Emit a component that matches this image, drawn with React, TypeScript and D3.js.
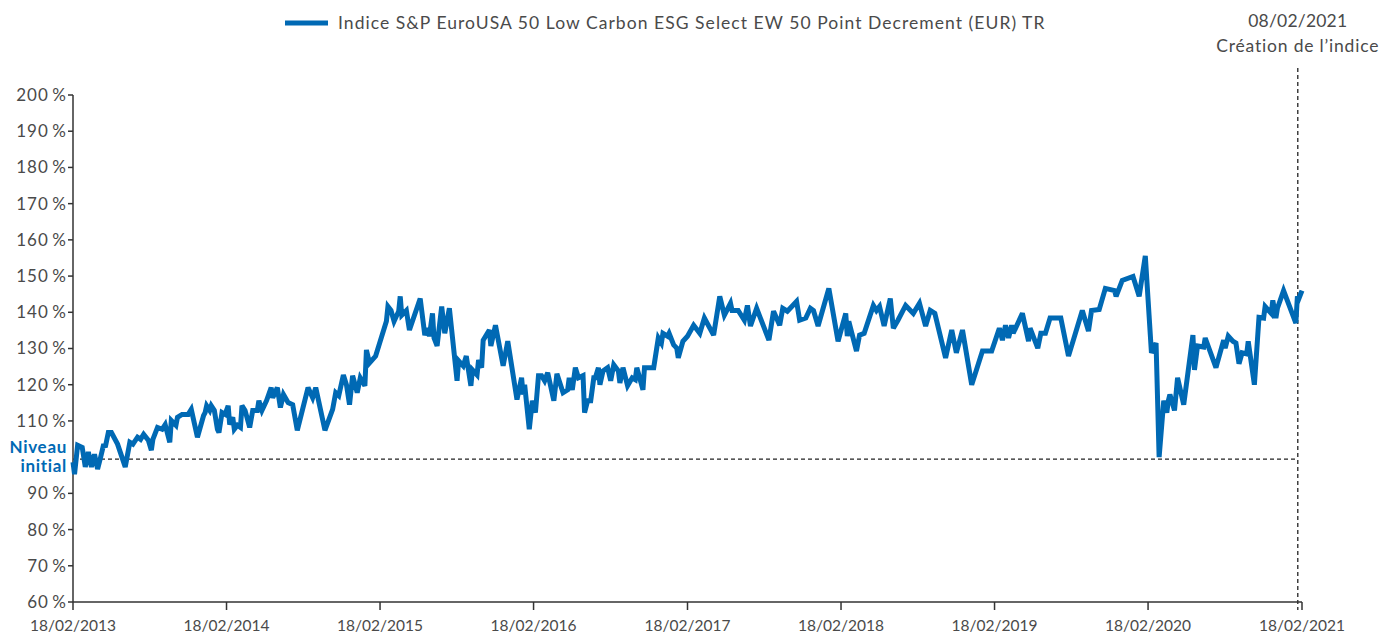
import React from "react";
import * as d3 from "d3";

// years elapsed since 18/02/2013
const yearOffsets = [
  0.0, 0.01, 0.03, 0.06, 0.08, 0.1, 0.12, 0.14, 0.16, 0.18, 0.2, 0.21, 0.23, 0.25, 0.29, 0.34, 0.37, 0.39, 0.42, 0.44,
  0.46, 0.49, 0.51, 0.52, 0.55, 0.58, 0.6, 0.63, 0.64, 0.67, 0.68, 0.71, 0.75, 0.77, 0.81, 0.85, 0.86, 0.87, 0.89, 0.9,
  0.92, 0.94, 0.95, 0.97, 0.99, 1.01, 1.02, 1.04, 1.05, 1.07, 1.09, 1.1, 1.12, 1.15, 1.17, 1.2, 1.21, 1.23, 1.26, 1.29,
  1.3, 1.33, 1.35, 1.37, 1.4, 1.43, 1.46, 1.53, 1.56, 1.58, 1.64, 1.69, 1.71, 1.73, 1.76, 1.78, 1.8, 1.82, 1.85, 1.87,
  1.9, 1.91, 1.93, 1.97, 2.04, 2.05, 2.07, 2.09, 2.12, 2.13, 2.14, 2.17, 2.19, 2.26, 2.29, 2.31, 2.32, 2.34, 2.35, 2.37,
  2.4, 2.42, 2.45, 2.5, 2.51, 2.54, 2.56, 2.59, 2.6, 2.63, 2.64, 2.66, 2.67, 2.71, 2.72, 2.75, 2.8, 2.83, 2.89, 2.92,
  2.93, 2.94, 2.97, 2.99, 3.01, 3.03, 3.05, 3.07, 3.09, 3.13, 3.15, 3.19, 3.22, 3.23, 3.25, 3.27, 3.29, 3.32, 3.33, 3.35,
  3.37, 3.39, 3.4, 3.42, 3.43, 3.45, 3.48, 3.5, 3.52, 3.55, 3.56, 3.58, 3.61, 3.64, 3.66, 3.67, 3.71, 3.72, 3.78, 3.81,
  3.83, 3.84, 3.87, 3.88, 3.91, 3.93, 3.94, 3.97, 4.0, 4.04, 4.08, 4.11, 4.17, 4.21, 4.24, 4.28, 4.29, 4.33, 4.37, 4.39,
  4.41, 4.45, 4.53, 4.56, 4.6, 4.62, 4.65, 4.71, 4.73, 4.77, 4.8, 4.82, 4.85, 4.92, 4.98, 5.03, 5.04, 5.05, 5.1, 5.12,
  5.15, 5.21, 5.23, 5.25, 5.28, 5.32, 5.34, 5.37, 5.42, 5.47, 5.51, 5.55, 5.58, 5.61, 5.68, 5.72, 5.75, 5.79, 5.85, 5.92,
  5.98, 6.03, 6.05, 6.07, 6.09, 6.11, 6.12, 6.18, 6.22, 6.23, 6.28, 6.3, 6.33, 6.36, 6.43, 6.48, 6.57, 6.61, 6.63, 6.68,
  6.72, 6.78, 6.79, 6.83, 6.9, 6.94, 6.98, 7.02, 7.05, 7.07, 7.1, 7.12, 7.13, 7.14, 7.17, 7.19, 7.23, 7.29, 7.3, 7.32,
  7.36, 7.37, 7.44, 7.49, 7.5, 7.52, 7.55, 7.57, 7.59, 7.61, 7.64, 7.65, 7.69, 7.72, 7.75, 7.76, 7.8, 7.81, 7.83, 7.84,
  7.88, 7.96, 7.97, 7.98, 8.0,
];

// index level in %
const indexValues = [
  98.6, 95.3, 103.3, 102.7, 97.3, 101.4, 97.3, 100.8, 96.7, 100, 103.6, 102.7, 106.8, 106.8, 103.6, 97.3, 104.1, 103.6, 105.5, 104.9,
  106.3, 104.7, 101.9, 104.9, 108.2, 107.7, 109, 104.1, 110.1, 108.8, 111, 111.8, 111.8, 113.2, 105.5, 111.5, 112.3, 114.2, 112.9, 114.2,
  112.9, 107.7, 106.8, 112.3, 111.8, 114.2, 109, 111, 107.7, 108.8, 108.2, 114.2, 112.9, 108.2, 112.9, 112.9, 115.6, 112.9, 115.6, 119.2,
  116.4, 119.2, 113.7, 117.3, 115.1, 114.5, 107.4, 119.2, 116.4, 119.2, 107.4, 113.2, 117.8, 117, 122.7, 120, 114.5, 122.5, 117.8, 121.9,
  119.7, 129.6, 126, 127.9, 137.5, 141.6, 140.5, 137.5, 140.3, 144.4, 139.2, 140.5, 135.1, 143.8, 133.7, 135.6, 133.4, 139.7, 132.9, 130.7,
  141.6, 134.2, 141.1, 121.1, 126.6, 125.2, 127.9, 119.7, 124.1, 122.7, 126.8, 124.7, 132.3, 135.1, 130.7, 136.4, 125.2, 132, 115.9, 121.9,
  117.3, 120, 107.7, 115.6, 112.3, 122.5, 122.5, 121.1, 123.3, 115.6, 123, 117.8, 118.6, 121.9, 118.6, 124.7, 121.9, 122.5, 112.3, 115.6,
  115.6, 121.9, 121.9, 124.7, 120, 123.8, 124.7, 121.1, 125.5, 123.8, 120.5, 124.7, 119.7, 121.9, 121.4, 124.7, 118.6, 124.7, 124.7, 132.9,
  131.5, 134.2, 133.4, 134.2, 131, 130.1, 127.4, 132, 133.4, 136.4, 134.2, 138.4, 133.7, 144.4, 139.2, 142.5, 140.5, 140.5, 137.8, 141.9,
  136.2, 141.1, 132.3, 140.3, 136.4, 141.1, 140.3, 143, 137.8, 138.4, 141.1, 140.5, 136.2, 146.6, 132, 139.7, 133.4, 137.5, 129.3, 133.7,
  134.2, 141.9, 140.5, 141.6, 136.2, 143.8, 135.6, 137.8, 141.9, 139.7, 142.5, 136.2, 140.5, 139.7, 127.4, 135.1, 128.8, 135.1, 120, 129.3,
  129.3, 135.6, 132.3, 136.4, 132.9, 136.4, 134.2, 139.7, 132, 135.6, 130.1, 134.2, 134.2, 138.4, 138.4, 127.9, 140.5, 134.8, 140.5, 140.8,
  146.6, 146, 144.4, 148.8, 149.9, 144.4, 155.6, 128.8, 131.5, 100, 115.6, 112.3, 115.6, 117.3, 112.9, 121.9, 114.5, 133.7, 124.1, 130.7,
  130.4, 132.9, 124.7, 132.3, 130.1, 133.4, 132, 131.5, 125.8, 128.8, 128.5, 132, 120, 138.6, 138.4, 141.6, 139.7, 143.3, 138.4, 141.1,
  146, 137, 144.4, 143.8, 146,
];

const yTicks = [60, 70, 80, 90, 110, 120, 130, 140, 150, 160, 170, 180, 190, 200];
const xTickYears = [2013, 2014, 2015, 2016, 2017, 2018, 2019, 2020, 2021];
const seriesName = "Indice S&P EuroUSA 50 Low Carbon ESG Select EW 50 Point Decrement (EUR) TR";
const creationDate = new Date(2021, 1, 8);
const creationLabel = ["08/02/2021", "Création de l\u2019indice"];
const baseLevel = 100;

const W = 1382;
const H = 636;
const BLUE = "#0069b4";
const GREY = "#4a4a4a";
const FONT = "Lato, 'Open Sans', sans-serif";

export default function App() {
  const start = new Date(2013, 1, 18);
  const end = new Date(2021, 1, 18);
  const x = d3.scaleTime().domain([start, end]).range([73, 1302]);
  const y = d3.scaleLinear().domain([60, 200]).range([602, 95]);

  const data = yearOffsets.map((t, i) => ({
    date: new Date(start.getTime() + t * 365.25 * 86400000),
    v: indexValues[i],
  }));

  const line = d3
    .line<{ date: Date; v: number }>()
    .x((d) => x(d.date))
    .y((d) => y(d.v));

  const fmt = d3.timeFormat("%d/%m/%Y");
  const axisY = y(60);
  const cx = x(creationDate);

  return (
    <svg
      width={W}
      height={H}
      style={{ position: "absolute", left: 0, top: 0, background: "#fff" }}
      fontFamily={FONT}
    >
      {/* legend */}
      <line x1={285} x2={328} y1={23} y2={23} stroke={BLUE} strokeWidth={5} />
      <text x={338} y={23} dy="0.35em" fontSize={17.5} letterSpacing={1.05} fill={GREY}>
        {seriesName}
      </text>

      {/* creation label */}
      <text x={cx} y={21} dy="0.35em" fontSize={17.5} letterSpacing={0.2} fill={GREY} textAnchor="middle">
        {creationLabel[0]}
      </text>
      <text x={cx} y={46} dy="0.35em" fontSize={17.5} letterSpacing={0.8} fill={GREY} textAnchor="middle">
        {creationLabel[1]}
      </text>

      {/* base level dashed */}
      <line
        x1={x(start)}
        x2={cx}
        y1={y(baseLevel) + 2}
        y2={y(baseLevel) + 2}
        stroke="#222"
        strokeWidth={1.3}
        strokeDasharray="4,3"
      />
      {/* creation vertical dashed */}
      <line x1={cx} x2={cx} y1={68} y2={axisY + 8} stroke="#222" strokeWidth={1.3} strokeDasharray="4,3" />

      {/* y axis */}
      <line x1={73} x2={73} y1={y(200)} y2={axisY} stroke="#333" strokeWidth={1.5} />
      {yTicks.map((t) => (
        <g key={t}>
          <line x1={68} x2={73} y1={y(t)} y2={y(t)} stroke="#333" strokeWidth={1.5} />
          <text x={67} y={y(t)} dy="0.35em" fontSize={17} letterSpacing={1.1} fill={GREY} textAnchor="end">
            {t}
            {"\u2009%"}
          </text>
        </g>
      ))}
      <text x={67} y={447} dy="0.35em" fontSize={17} letterSpacing={0.7} fontWeight={700} fill={BLUE} textAnchor="end">
        Niveau
      </text>
      <text x={67} y={466} dy="0.35em" fontSize={17} letterSpacing={0.7} fontWeight={700} fill={BLUE} textAnchor="end">
        initial
      </text>

      {/* x axis */}
      <line x1={73} x2={x(end)} y1={axisY} y2={axisY} stroke="#333" strokeWidth={1.5} />
      {xTickYears.map((yr) => {
        const d = new Date(yr, 1, 18);
        return (
          <g key={yr}>
            <line x1={x(d)} x2={x(d)} y1={axisY} y2={axisY + 8} stroke="#333" strokeWidth={1.5} />
            <text x={x(d)} y={626} dy="0.35em" fontSize={15.5} fill={GREY} textAnchor="middle">
              {fmt(d)}
            </text>
          </g>
        );
      })}

      {/* series */}
      <path d={line(data) || ""} fill="none" stroke={BLUE} strokeWidth={5} strokeLinejoin="miter" strokeMiterlimit={3} />
    </svg>
  );
}
